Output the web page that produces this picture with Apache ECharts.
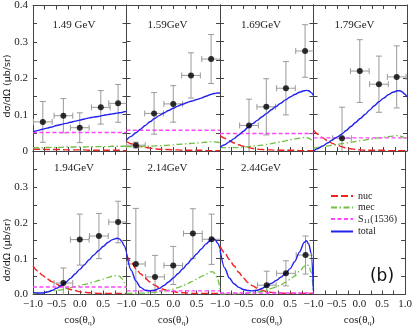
<!DOCTYPE html>
<html lang="en">
<head>
    <meta charset="UTF-8">
    <script type="text/javascript" src="https://cdn.jsdelivr.net/npm/echarts@6/dist/echarts.min.js"></script>
    <style>
        html, body { margin: 0; padding: 0; background: #fff; }
        #main { width: 415px; height: 328px; }
    </style>
</head>
<body>
    <div id="main"></div>

    <script type="text/javascript">
        // photon energies, one panel each
        var energyLabels = ['1.49 GeV', '1.59GeV', '1.69GeV', '1.79GeV', '1.94GeV', '2.14GeV', '2.44GeV'];

        // cos(theta_eta) sample positions of the model curves
        var cosGrid = [-1, -0.9, -0.8, -0.7, -0.6, -0.5, -0.4, -0.3, -0.2, -0.1, 0, 0.1, 0.2, 0.3, 0.4, 0.5, 0.6, 0.7, 0.8, 0.85, 0.9, 0.95, 1];

        var totalCurve = [
            [0.053, 0.056, 0.060, 0.063, 0.066, 0.070, 0.073, 0.076, 0.079, 0.082, 0.085, 0.088, 0.091, 0.093, 0.095, 0.098, 0.100, 0.102, 0.104, 0.105, 0.106, 0.108, 0.109],
            [0.030, 0.040, 0.050, 0.060, 0.070, 0.080, 0.089, 0.097, 0.104, 0.111, 0.117, 0.123, 0.128, 0.133, 0.137, 0.141, 0.145, 0.150, 0.155, 0.157, 0.158, 0.159, 0.159],
            [0.010, 0.017, 0.025, 0.034, 0.044, 0.054, 0.065, 0.075, 0.084, 0.094, 0.103, 0.113, 0.122, 0.131, 0.140, 0.148, 0.155, 0.161, 0.165, 0.166, 0.165, 0.160, 0.152],
            [0.000, 0.007, 0.014, 0.022, 0.030, 0.038, 0.046, 0.056, 0.067, 0.078, 0.089, 0.100, 0.112, 0.124, 0.135, 0.145, 0.154, 0.161, 0.165, 0.165, 0.162, 0.156, 0.148],
            [0.006, 0.004, 0.004, 0.007, 0.011, 0.017, 0.025, 0.034, 0.045, 0.057, 0.070, 0.083, 0.097, 0.110, 0.122, 0.134, 0.145, 0.153, 0.157, 0.155, 0.148, 0.136, 0.118],
            [0.115, 0.068, 0.038, 0.020, 0.012, 0.010, 0.012, 0.017, 0.025, 0.035, 0.046, 0.058, 0.071, 0.085, 0.099, 0.113, 0.127, 0.141, 0.152, 0.155, 0.152, 0.143, 0.128],
            [0.125, 0.074, 0.046, 0.030, 0.020, 0.014, 0.011, 0.010, 0.012, 0.017, 0.024, 0.031, 0.039, 0.048, 0.058, 0.072, 0.092, 0.118, 0.145, 0.150, 0.140, 0.115, 0.010]
        ];

        var mecCurve = [
            [0.009, 0.009, 0.009, 0.010, 0.010, 0.010, 0.010, 0.011, 0.011, 0.011, 0.011, 0.011, 0.012, 0.012, 0.012, 0.012, 0.012, 0.013, 0.013, 0.013, 0.013, 0.013, 0.013],
            [0.012, 0.012, 0.012, 0.012, 0.013, 0.013, 0.014, 0.014, 0.015, 0.016, 0.017, 0.018, 0.019, 0.020, 0.021, 0.022, 0.023, 0.024, 0.025, 0.025, 0.025, 0.024, 0.023],
            [0.010, 0.009, 0.009, 0.009, 0.010, 0.011, 0.012, 0.013, 0.015, 0.016, 0.018, 0.020, 0.023, 0.025, 0.028, 0.031, 0.033, 0.035, 0.037, 0.037, 0.035, 0.031, 0.025],
            [0.008, 0.010, 0.012, 0.014, 0.016, 0.018, 0.020, 0.022, 0.024, 0.026, 0.028, 0.030, 0.032, 0.034, 0.036, 0.038, 0.039, 0.041, 0.042, 0.041, 0.039, 0.035, 0.030],
            [0.003, 0.004, 0.005, 0.007, 0.009, 0.011, 0.013, 0.016, 0.019, 0.022, 0.025, 0.028, 0.031, 0.035, 0.039, 0.043, 0.047, 0.051, 0.053, 0.051, 0.045, 0.034, 0.018],
            [0.003, 0.003, 0.003, 0.004, 0.004, 0.005, 0.006, 0.008, 0.010, 0.012, 0.015, 0.019, 0.024, 0.030, 0.036, 0.043, 0.050, 0.057, 0.063, 0.063, 0.057, 0.042, 0.015],
            [0.002, 0.002, 0.002, 0.002, 0.003, 0.003, 0.004, 0.005, 0.007, 0.009, 0.013, 0.017, 0.021, 0.027, 0.034, 0.042, 0.052, 0.065, 0.078, 0.083, 0.081, 0.062, 0.008]
        ];

        var nucCurve = [
            [0.005, 0.005, 0.005, 0.004, 0.004, 0.004, 0.004, 0.003, 0.003, 0.003, 0.003, 0.003, 0.002, 0.002, 0.002, 0.002, 0.002, 0.002, 0.002, 0.002, 0.001, 0.001, 0.001],
            [0.026, 0.020, 0.016, 0.012, 0.010, 0.008, 0.006, 0.005, 0.004, 0.004, 0.003, 0.003, 0.002, 0.002, 0.002, 0.002, 0.002, 0.001, 0.001, 0.001, 0.001, 0.001, 0.001],
            [0.042, 0.035, 0.028, 0.022, 0.017, 0.013, 0.010, 0.007, 0.005, 0.004, 0.003, 0.003, 0.002, 0.002, 0.002, 0.002, 0.002, 0.001, 0.001, 0.001, 0.001, 0.001, 0.001],
            [0.057, 0.046, 0.036, 0.028, 0.021, 0.016, 0.012, 0.008, 0.006, 0.004, 0.003, 0.002, 0.002, 0.002, 0.002, 0.002, 0.001, 0.001, 0.001, 0.001, 0.001, 0.001, 0.001],
            [0.080, 0.066, 0.054, 0.044, 0.036, 0.029, 0.023, 0.018, 0.014, 0.011, 0.008, 0.006, 0.005, 0.004, 0.003, 0.003, 0.003, 0.003, 0.003, 0.003, 0.003, 0.003, 0.003],
            [0.110, 0.090, 0.072, 0.058, 0.046, 0.035, 0.026, 0.019, 0.014, 0.010, 0.008, 0.006, 0.005, 0.004, 0.003, 0.003, 0.003, 0.003, 0.003, 0.003, 0.003, 0.003, 0.003],
            [0.134, 0.116, 0.098, 0.080, 0.062, 0.046, 0.033, 0.024, 0.017, 0.012, 0.008, 0.006, 0.005, 0.004, 0.003, 0.003, 0.003, 0.003, 0.003, 0.003, 0.003, 0.003, 0.003]
        ];

        // S11(1536) contribution is flat in each panel
        var s11Level = [0.051, 0.057, 0.048, 0.036, 0.021, 0.010, 0.004];

        // measured points: cos, value, error
        var ptCos = [
            [-0.79, -0.35, 0.0, 0.45, 0.82],
            [-0.80, -0.41, 0.0, 0.38, 0.81],
            [-0.38, -0.01, 0.41, 0.82],
            [-0.39, -0.01, 0.40, 0.78],
            [-0.35, 0.0, 0.41, 0.82],
            [-0.80, -0.39, 0.0, 0.42, 0.82],
            [0.0, 0.41, 0.83]
        ];
        var ptVal = [
            [0.080, 0.097, 0.064, 0.120, 0.131],
            [0.016, 0.103, 0.129, 0.207, 0.252],
            [0.070, 0.121, 0.172, 0.274],
            [0.035, 0.219, 0.183, 0.203],
            [0.032, 0.153, 0.163, 0.202],
            [0.085, 0.049, 0.081, 0.170, 0.154],
            [0.026, 0.059, 0.110]
        ];
        var ptErr = [
            [0.056, 0.047, 0.041, 0.046, 0.052],
            [0.008, 0.057, 0.050, 0.062, 0.067],
            [0.072, 0.077, 0.073, 0.072],
            [0.085, 0.086, 0.077, 0.085],
            [0.042, 0.071, 0.063, 0.058],
            [0.155, 0.060, 0.053, 0.069, 0.070],
            [0.039, 0.035, 0.053]
        ];
        var binHalf = 0.2;

        var serif = '"Liberation Serif", "DejaVu Serif", serif';
        var frame = '#444';
        var colors = { nuc: '#f02222', mec: '#72c046', s11: '#ff44ff', total: '#2222ee' };

        var myChart = echarts.init(document.getElementById('main'));

        var panelW = 93.5, panelH = 146, left0 = 33;
        var grids = [], xAxes = [], yAxes = [], series = [], graphics = [];

        function xLabel(g) {
            return function (v) {
                var k = Math.round(v * 100);
                if (k % 50 !== 0) return '';
                if (k === 100 && g < 7) return '';
                return (k < 0 ? '\u2212' : '') + Math.abs(v).toFixed(1);
            };
        }
        function yLabel(g) {
            return function (v) {
                var k = Math.round(v * 100);
                if (k % 10 !== 0) return '';
                if (g === 0 && k === 0) return '0';
                if (g === 4 && k === 40) return '';
                return v.toFixed(1);
            };
        }

        for (var g = 0; g < 8; g++) {
            var bottomRow = g >= 4;
            grids.push({
                left: left0 + (g % 4) * panelW,
                top: bottomRow ? 5 + panelH : 5,
                width: panelW,
                height: panelH
            });
            var tick = { show: true, inside: true, length: 4, lineStyle: { color: frame, width: 1 } };
            var line = { show: true, onZero: false, lineStyle: { color: frame, width: 1 } };
            xAxes[g] = {
                type: 'value', gridIndex: g, min: -1, max: 1, interval: 0.25, position: 'bottom',
                axisLine: line, axisTick: tick, splitLine: { show: false },
                axisLabel: {
                    show: bottomRow, formatter: xLabel(g), showMinLabel: true, showMaxLabel: true,
                    color: '#222', fontFamily: serif, fontSize: 11, margin: 4
                },
                name: bottomRow ? '{a|cos(\u03b8}{b|\u03b7}{a|)}' : '',
                nameLocation: 'middle', nameGap: 19,
                nameTextStyle: {
                    rich: {
                        a: { fontFamily: serif, fontSize: 11, color: '#222', lineHeight: 14 },
                        b: { fontFamily: serif, fontSize: 7, color: '#222', lineHeight: 14, padding: [6, 0, 0, 0] }
                    }
                }
            };
            xAxes[8 + g] = {
                type: 'value', gridIndex: g, min: -1, max: 1, interval: 0.25, position: 'top',
                axisLine: line, axisTick: tick, splitLine: { show: false }, axisLabel: { show: false }
            };
            yAxes[g] = {
                type: 'value', gridIndex: g, min: 0, max: 0.4, interval: 0.05, position: 'left',
                axisLine: line, axisTick: tick, splitLine: { show: false },
                axisLabel: {
                    show: g === 0 || g === 4, formatter: yLabel(g), showMinLabel: true, showMaxLabel: true,
                    color: '#222', fontFamily: serif, fontSize: 11, margin: 5
                }
            };
            yAxes[8 + g] = {
                type: 'value', gridIndex: g, min: 0, max: 0.4, interval: 0.05, position: 'right',
                axisLine: line, axisTick: tick, splitLine: { show: false }, axisLabel: { show: false }
            };
        }

        function curve(vals) {
            return cosGrid.map(function (c, i) { return [c, vals[i]]; });
        }

        function errorBar(params, api) {
            var x = api.value(0), y = api.value(1), e = api.value(2), dx = api.value(3);
            var cs = params.coordSys;
            var yMin = cs.y, yMax = cs.y + cs.height, xMin = cs.x, xMax = cs.x + cs.width;
            var c = api.coord([x, y]);
            var t = api.coord([x, y + e])[1], b = api.coord([x, y - e])[1];
            var l = api.coord([x - dx, y])[0], r = api.coord([x + dx, y])[0];
            var st = { stroke: '#9a9a9a', lineWidth: 1 };
            var kids = [];
            function seg(x1, y1, x2, y2) {
                kids.push({ type: 'line', shape: { x1: x1, y1: y1, x2: x2, y2: y2 }, style: st });
            }
            var tc = Math.max(t, yMin), bc = Math.min(b, yMax);
            var lc = Math.max(l, xMin), rc = Math.min(r, xMax);
            seg(c[0], tc, c[0], bc);
            seg(lc, c[1], rc, c[1]);
            if (t >= yMin) seg(c[0] - 3, t, c[0] + 3, t);
            if (b <= yMax) seg(c[0] - 3, b, c[0] + 3, b);
            if (l >= xMin) seg(l, c[1] - 3, l, c[1] + 3);
            if (r <= xMax) seg(r, c[1] - 3, r, c[1] + 3);
            return { type: 'group', children: kids };
        }

        for (var p = 0; p < 7; p++) {
            var base = { xAxisIndex: p, yAxisIndex: p, symbol: 'none', smooth: 0.3, smoothMonotone: 'x', animation: false, silent: true };
            series.push(Object.assign({}, base, {
                type: 'line', name: 'nuc', data: curve(nucCurve[p]),
                lineStyle: { color: colors.nuc, width: 1.4, type: [7, 3] }, itemStyle: { color: colors.nuc }
            }));
            series.push(Object.assign({}, base, {
                type: 'line', name: 'mec', data: curve(mecCurve[p]),
                lineStyle: { color: colors.mec, width: 1.3, type: [6, 2.5, 1.5, 2.5] }, itemStyle: { color: colors.mec }
            }));
            series.push(Object.assign({}, base, {
                type: 'line', name: 'S11(1536)', data: [[-1, s11Level[p]], [1, s11Level[p]]],
                lineStyle: { color: colors.s11, width: 1.4, type: [4, 2.5] }, itemStyle: { color: colors.s11 }
            }));
            series.push(Object.assign({}, base, {
                type: 'line', name: 'total', data: curve(totalCurve[p]),
                lineStyle: { color: colors.total, width: 1.4 }, itemStyle: { color: colors.total }
            }));
            var pts = ptCos[p].map(function (c, i) { return [c, ptVal[p][i], ptErr[p][i], binHalf]; });
            series.push({
                type: 'custom', xAxisIndex: p, yAxisIndex: p, renderItem: errorBar, data: pts,
                animation: false, silent: true, z: 3
            });
            series.push({
                type: 'scatter', xAxisIndex: p, yAxisIndex: p, symbolSize: 6,
                data: pts.map(function (d) { return [d[0], d[1]]; }),
                itemStyle: { color: '#000' }, animation: false, silent: true, z: 4
            });

            var col = p % 4, row = p < 4 ? 0 : 1;
            graphics.push({
                type: 'text', x: left0 + col * panelW + 41, y: row === 0 ? 25 : 168,
                style: {
                    text: energyLabels[p], font: '11px ' + serif, fill: '#222',
                    textAlign: 'center', textVerticalAlign: 'middle', align: 'center', verticalAlign: 'middle'
                }
            });
        }

        [86, 250].forEach(function (yc) {
            graphics.push({
                type: 'text', x: 8, y: yc, rotation: Math.PI / 2,
                style: {
                    text: 'd\u03c3/d\u03a9 (\u03bcb/sr)', font: '9.5px "DejaVu Sans", sans-serif', fill: '#222',
                    textAlign: 'center', textVerticalAlign: 'middle', align: 'center', verticalAlign: 'middle'
                }
            });
        });
        graphics.push({
            type: 'text', x: 382, y: 277,
            style: {
                text: '(b)', font: '17px "DejaVu Sans", sans-serif', fill: '#111',
                textAlign: 'center', textVerticalAlign: 'middle', align: 'center', verticalAlign: 'middle'
            }
        });

        var option = {
            backgroundColor: '#fff',
            animation: false,
            grid: grids,
            xAxis: xAxes,
            yAxis: yAxes,
            legend: {
                data: ['nuc', 'mec', 'S11(1536)', 'total'],
                orient: 'vertical', left: 325, top: 186,
                itemWidth: 22, itemHeight: 10, itemGap: 1.5,
                selectedMode: false,
                itemStyle: { color: 'rgba(0,0,0,0)', borderWidth: 0, opacity: 0 },
                textStyle: {
                    fontFamily: serif, fontSize: 10, color: '#222',
                    rich: {
                        n: { fontFamily: serif, fontSize: 10, color: '#222' },
                        s: { fontFamily: serif, fontSize: 7, color: '#222', padding: [5, 0, 0, 0] }
                    }
                },
                formatter: function (name) {
                    return name === 'S11(1536)' ? '{n|S}{s|11}{n|(1536)}' : name;
                }
            },
            graphic: graphics,
            series: series
        };
        myChart.setOption(option);
    </script>
</body>
</html>
